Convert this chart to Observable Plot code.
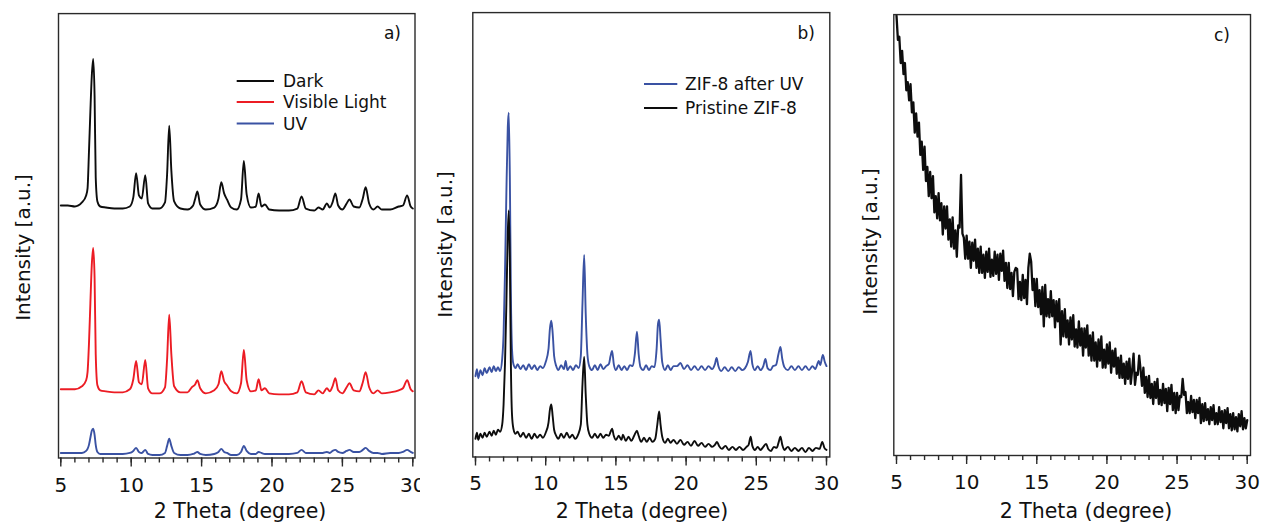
<!DOCTYPE html>
<html>
<head>
<meta charset="utf-8">
<script src="https://cdn.jsdelivr.net/npm/d3@7"></script>
<script src="https://cdn.jsdelivr.net/npm/@observablehq/plot@0.6"></script>
<style>
  html, body { margin: 0; padding: 0; background: #fff; }
  #wrap { position: relative; width: 1262px; height: 527px; overflow: hidden; }
</style>
</head>
<body>
<div id="wrap"></div>
<script>
// ---------------- data ----------------
const xMajorTicks = [5, 10, 15, 20, 25, 30];
const xMinorTicks = [5,6,7,8,9,10,11,12,13,14,15,16,17,18,19,20,21,22,23,24,25,26,27,28,29,30];

const xTitle = "2 Theta (degree)";
const yTitle = "Intensity [a.u.]";

// panel a) : [2theta, intensity a.u.]
const legendA = ["Dark", "Visible Light", "UV"];
const darkA = [[5.0,250],[5.5,250],[6.0,249],[6.5,253],[6.8,260],[6.9,267],[7.0,303],[7.1,343],[7.2,378],[7.3,395],[7.4,358],[7.48,278],[7.6,254],[7.8,249],[8.2,248],[8.8,247],[9.4,247],[9.9,249],[10.15,258],[10.35,282],[10.55,260],[10.75,257],[11.0,280],[11.2,252],[11.5,247],[12.0,247],[12.4,253],[12.55,281],[12.7,329],[12.85,285],[13.05,254],[13.5,247],[14.0,246],[14.4,250],[14.55,257],[14.7,264],[14.9,251],[15.3,246],[15.9,248],[16.2,257],[16.4,273],[16.6,262],[16.8,256],[17.1,248],[17.5,246],[17.8,256],[18.0,294],[18.2,261],[18.5,248],[18.85,249],[19.05,262],[19.25,249],[19.5,251],[19.8,246],[20.5,245],[21.2,245],[21.8,247],[22.1,259],[22.4,247],[23.0,245],[23.3,248],[23.6,246],[23.9,252],[24.1,248],[24.3,253],[24.5,262],[24.7,250],[25.0,246],[25.3,252],[25.5,256],[25.8,249],[26.2,248],[26.45,257],[26.65,268],[26.9,252],[27.2,246],[27.5,249],[27.8,246],[28.4,246],[29.0,249],[29.3,250],[29.6,260],[29.85,249],[30.0,247]];
const visibleA = [[5.0,68],[5.5,68],[6.0,68],[6.5,71],[6.8,77],[6.9,85],[7.0,113],[7.1,153],[7.2,191],[7.3,208],[7.4,178],[7.48,103],[7.6,72],[7.8,67],[8.2,66],[8.8,65],[9.4,65],[9.9,68],[10.15,78],[10.35,96],[10.55,75],[10.75,73],[11.0,97],[11.2,69],[11.5,64],[12.0,64],[12.4,70],[12.55,98],[12.7,142],[12.85,103],[13.05,71],[13.5,65],[14.0,65],[14.3,70],[14.55,73],[14.7,77],[14.9,69],[15.3,64],[15.9,67],[16.2,73],[16.4,86],[16.6,76],[16.8,72],[17.1,66],[17.5,64],[17.8,74],[18.0,107],[18.2,77],[18.5,66],[18.85,67],[19.05,78],[19.25,67],[19.5,69],[19.8,64],[20.5,63],[21.2,63],[21.8,65],[22.1,76],[22.4,65],[23.0,63],[23.3,67],[23.6,64],[23.9,69],[24.1,66],[24.3,71],[24.5,79],[24.7,67],[25.0,64],[25.3,70],[25.5,74],[25.8,67],[26.2,66],[26.45,75],[26.65,85],[26.9,70],[27.2,64],[27.5,67],[27.8,64],[28.4,65],[29.0,67],[29.3,69],[29.6,77],[29.85,68],[30.0,66]];
const uvA = [[5.0,5],[5.5,5],[6.0,5],[6.5,5],[6.8,7],[6.9,9],[7.0,13],[7.1,20],[7.2,27],[7.3,29],[7.4,23],[7.48,13],[7.6,6],[7.8,4],[8.2,4],[8.8,4],[9.4,4],[9.9,5],[10.15,7],[10.35,10],[10.55,6],[10.75,5],[11.0,8],[11.2,4],[11.5,3],[12.0,3],[12.4,5],[12.55,12],[12.7,19],[12.85,12],[13.05,5],[13.5,3],[14.0,3],[14.4,4],[14.55,5],[14.7,6],[14.9,4],[15.3,3],[15.9,4],[16.2,6],[16.4,9],[16.6,6],[16.8,5],[17.1,3],[17.5,3],[17.8,6],[18.0,12],[18.2,7],[18.5,4],[18.85,4],[19.05,6],[19.25,5],[19.5,4],[19.8,4],[20.5,4],[21.2,4],[21.8,5],[22.1,8],[22.4,5],[23.0,5],[23.3,5],[23.6,5],[23.9,6],[24.1,5],[24.3,7],[24.5,8],[24.7,6],[25.0,5],[25.3,7],[25.5,8],[25.8,6],[26.2,6],[26.45,8],[26.65,10],[26.9,7],[27.2,5],[27.5,5],[27.8,4],[28.4,5],[29.0,5],[29.3,6],[29.6,8],[29.85,6],[30.0,5]];

// panel b)
const legendB = ["ZIF-8 after UV", "Pristine ZIF-8"];
const afterUvB = [[5.0,80],[5.1,87],[5.2,78],[5.35,86],[5.5,81],[5.65,88],[5.8,83],[6.0,89],[6.15,84],[6.3,90],[6.45,85],[6.6,89],[6.75,85],[6.9,97],[7.0,122],[7.1,182],[7.2,262],[7.3,327],[7.37,341],[7.45,272],[7.52,162],[7.6,107],[7.7,92],[7.85,88],[8.0,92],[8.2,87],[8.4,91],[8.6,86],[8.8,92],[9.0,87],[9.2,91],[9.4,86],[9.6,90],[9.8,88],[10.0,94],[10.2,107],[10.3,127],[10.4,135],[10.5,122],[10.6,100],[10.75,90],[10.9,86],[11.1,91],[11.3,87],[11.42,95],[11.55,86],[11.75,90],[11.95,86],[12.15,91],[12.35,88],[12.5,100],[12.62,152],[12.74,200],[12.85,142],[12.97,102],[13.1,90],[13.3,86],[13.5,91],[13.7,86],[13.9,92],[14.1,87],[14.3,90],[14.5,92],[14.62,100],[14.73,105],[14.85,92],[15.0,86],[15.2,91],[15.4,86],[15.6,90],[15.8,86],[16.0,91],[16.2,90],[16.35,102],[16.5,124],[16.62,102],[16.75,89],[16.95,86],[17.15,91],[17.35,86],[17.55,90],[17.75,89],[17.9,107],[18.0,132],[18.08,136],[18.18,117],[18.3,94],[18.5,86],[18.7,91],[18.9,86],[19.1,90],[19.35,90],[19.6,93],[19.85,87],[20.1,91],[20.35,86],[20.6,90],[20.85,86],[21.1,90],[21.35,86],[21.6,90],[21.85,87],[22.05,92],[22.17,98],[22.3,90],[22.5,85],[22.75,89],[23.0,85],[23.25,89],[23.5,85],[23.75,89],[24.0,86],[24.2,88],[24.4,94],[24.59,105],[24.72,92],[24.9,86],[25.1,90],[25.3,86],[25.5,90],[25.65,97],[25.8,88],[26.0,86],[26.2,90],[26.4,91],[26.58,102],[26.72,109],[26.85,97],[27.0,89],[27.25,86],[27.5,90],[27.75,86],[28.0,90],[28.25,86],[28.5,90],[28.75,86],[29.0,90],[29.2,87],[29.45,95],[29.55,91],[29.74,101],[29.88,94],[30.0,90]];
const pristineB = [[5.0,18],[5.1,24],[5.2,17],[5.35,23],[5.5,19],[5.65,24],[5.8,20],[6.0,25],[6.15,21],[6.3,26],[6.45,22],[6.6,27],[6.75,25],[6.9,32],[7.0,52],[7.1,92],[7.2,152],[7.3,222],[7.37,244],[7.45,192],[7.52,92],[7.6,42],[7.7,28],[7.85,23],[8.0,25],[8.2,20],[8.4,24],[8.6,19],[8.8,23],[9.0,18],[9.2,23],[9.4,19],[9.6,22],[9.8,19],[10.0,24],[10.2,34],[10.3,47],[10.4,52],[10.5,40],[10.6,27],[10.75,21],[10.9,18],[11.1,23],[11.3,19],[11.5,24],[11.7,19],[11.9,22],[12.1,18],[12.3,22],[12.5,32],[12.62,72],[12.74,99],[12.85,62],[12.97,32],[13.1,23],[13.3,19],[13.5,23],[13.7,19],[13.9,23],[14.1,19],[14.3,22],[14.5,21],[14.62,25],[14.73,28],[14.85,21],[15.0,17],[15.2,21],[15.4,17],[15.5,22],[15.7,16],[15.9,20],[16.1,16],[16.3,21],[16.5,26],[16.62,21],[16.8,15],[17.0,19],[17.2,15],[17.4,19],[17.6,15],[17.8,18],[17.95,32],[18.08,45],[18.18,32],[18.3,20],[18.5,14],[18.7,18],[18.9,14],[19.1,17],[19.35,13],[19.6,17],[19.85,12],[20.1,15],[20.35,11],[20.6,16],[20.85,11],[21.1,14],[21.35,10],[21.6,13],[21.85,10],[22.05,12],[22.2,15],[22.35,11],[22.55,8],[22.8,11],[23.05,7],[23.3,10],[23.55,7],[23.8,10],[24.05,7],[24.3,10],[24.45,12],[24.6,20],[24.72,11],[24.9,7],[25.1,10],[25.3,7],[25.5,10],[25.7,13],[25.85,8],[26.05,6],[26.25,10],[26.45,9],[26.6,15],[26.72,20],[26.85,12],[27.0,7],[27.25,10],[27.5,6],[27.75,9],[28.0,6],[28.25,9],[28.5,5],[28.75,9],[29.0,6],[29.25,9],[29.5,8],[29.7,15],[29.85,9],[30.0,7]];

// panel c) : scan from 5 deg in 0.1 deg steps
const scanStartC = 5;
const scanStepC = 0.1;
const intensityC = [
436,412,415,389,401,378,389,362,370,352,
368,340,350,320,339,316,330,298,311,283,
306,272,286,257,281,255,277,241,257,235,
260,233,250,219,247,225,247,214,234,207,
236,205,223,197,228,226,278,220,216,195,
218,195,212,186,211,193,214,186,205,181,
207,181,199,176,202,182,205,177,194,178,
202,180,199,174,200,183,203,173,191,166,
191,165,181,158,182,186,185,155,172,154,
179,156,174,150,186,200,192,164,175,148,
175,147,164,140,167,128,169,138,155,137,
163,138,154,127,153,133,155,110,143,118,
145,117,134,110,137,115,139,108,125,107,
133,109,126,99,126,107,129,99,119,94,
122,94,112,88,115,94,118,87,105,87,
110,91,112,82,104,88,106,81,97,77,
99,77,91,71,93,76,96,71,85,101,
70,82,80,99,85,69,87,62,78,58,
79,57,71,51,73,57,76,51,65,50,
71,52,66,44,67,51,70,45,62,42,
62,45,59,58,76,60,63,42,53,42,
59,43,55,37,55,42,57,32,51,34,
52,35,46,31,48,35,50,31,42,31,
48,33,44,27,45,32,47,27,41,25,
42,26,38,24,41,29,44,26,37,27,
35];
const seriesC = intensityC.map((v, i) => [scanStartC + i * scanStepC, v]);

// ---------------- styling ----------------
const FONT = '"DejaVu Sans", "Liberation Sans", sans-serif';
const AXIS = "#2a2a2a";
const TEXT = "#111";
const BLACK = "#0d0d0d";
const RED = "#ec1c24";
const BLUE = "#3a52a3";

const wrap = document.getElementById("wrap");

function makePanel(cfg) {
  const H = 527;
  const [fl, fr, ft, fb] = cfg.frame;
  const svg = Plot.plot({
    width: cfg.width,
    height: H,
    marginLeft: fl,
    marginRight: cfg.width - fr,
    marginTop: ft,
    marginBottom: H - fb,
    x: {domain: [5, 30], range: cfg.xRange, axis: null},
    y: {domain: cfg.yDomain, axis: null},
    style: {fontFamily: FONT, color: TEXT, background: "white", overflow: "visible"},
    marks: [
      ...cfg.series.map(s => Plot.line(s.data, {
        x: d => d[0], y: d => d[1],
        stroke: s.color, strokeWidth: s.width, curve: s.curve || "linear",
        strokeLinejoin: "round"
      })),
      Plot.frame({stroke: AXIS, strokeWidth: 1.4}),
      Plot.axisX(xMinorTicks, {anchor: "bottom", tickSize: 5, tickFormat: () => "", stroke: AXIS, strokeWidth: 1.4, label: null}),
      Plot.axisX(xMajorTicks, {anchor: "bottom", tickSize: 9, tickPadding: cfg.tickPad, fontSize: 20, stroke: AXIS, strokeWidth: 1.4, label: null})
    ]
  });
  svg.style.position = "absolute";
  svg.style.left = cfg.left + "px";
  svg.style.top = "0px";

  const g = d3.select(svg).append("g").attr("font-family", FONT).attr("fill", TEXT);
  // y title
  const [yx, yy] = cfg.yTitlePos;
  g.append("text").attr("x", yx).attr("y", yy)
    .attr("transform", `rotate(-90 ${yx} ${yy})`)
    .attr("text-anchor", "middle").attr("font-size", 20).text(yTitle);
  // x title
  g.append("text").attr("x", cfg.xTitlePos[0]).attr("y", cfg.xTitlePos[1])
    .attr("text-anchor", "middle").attr("font-size", 20.5).text(xTitle);
  // panel label
  g.append("text").attr("x", cfg.labelPos[0]).attr("y", cfg.labelPos[1])
    .attr("text-anchor", "end").attr("font-size", 17).text(cfg.label);
  // legend
  if (cfg.legend) {
    const L = cfg.legend;
    L.items.forEach((it, i) => {
      const y = L.rows[i];
      g.append("line").attr("x1", L.x1).attr("x2", L.x2).attr("y1", y).attr("y2", y)
        .attr("stroke", it.color).attr("stroke-width", 2);
      g.append("text").attr("x", L.tx).attr("y", y + 6.2)
        .attr("text-anchor", "start").attr("font-size", 17).text(it.name);
    });
  }
  wrap.appendChild(svg);
}

makePanel({
  left: 0, width: 420,
  frame: [58, 414.5, 13.1, 457.5],
  xRange: [60.3, 412.3],
  yDomain: [0, 440],
  tickPad: 11,
  series: [
    {data: darkA, color: BLACK, width: 1.9, curve: "monotone-x"},
    {data: visibleA, color: RED, width: 1.9, curve: "monotone-x"},
    {data: uvA, color: BLUE, width: 1.9, curve: "monotone-x"}
  ],
  yTitlePos: [29.5, 247.5],
  xTitlePos: [240, 518],
  label: "a)", labelPos: [401, 39],
  legend: {x1: 236.7, x2: 274, tx: 283, rows: [81, 102, 123.5],
    items: [{name: legendA[0], color: BLACK}, {name: legendA[1], color: RED}, {name: legendA[2], color: BLUE}]}
});

makePanel({
  left: 420, width: 420,
  frame: [52.3, 409.3, 12.1, 456.5],
  xRange: [55, 406],
  yDomain: [0, 440],
  tickPad: 10,
  series: [
    {data: afterUvB, color: BLUE, width: 1.9, curve: "monotone-x"},
    {data: pristineB, color: BLACK, width: 1.9, curve: "monotone-x"}
  ],
  yTitlePos: [31.5, 244.5],
  xTitlePos: [222, 518],
  label: "b)", labelPos: [395, 39],
  legend: {x1: 224, x2: 257.3, tx: 265, rows: [84, 108],
    items: [{name: legendB[0], color: BLUE}, {name: legendB[1], color: BLACK}]}
});

makePanel({
  left: 840, width: 422,
  frame: [53.3, 410, 14.1, 455],
  xRange: [56, 406.7],
  yDomain: [0, 437],
  tickPad: 10,
  series: [
    {data: seriesC, color: BLACK, width: 2.3, curve: "linear"}
  ],
  yTitlePos: [36.5, 241.5],
  xTitlePos: [246, 518],
  label: "c)", labelPos: [390, 41]
});
</script>
</body>
</html>
